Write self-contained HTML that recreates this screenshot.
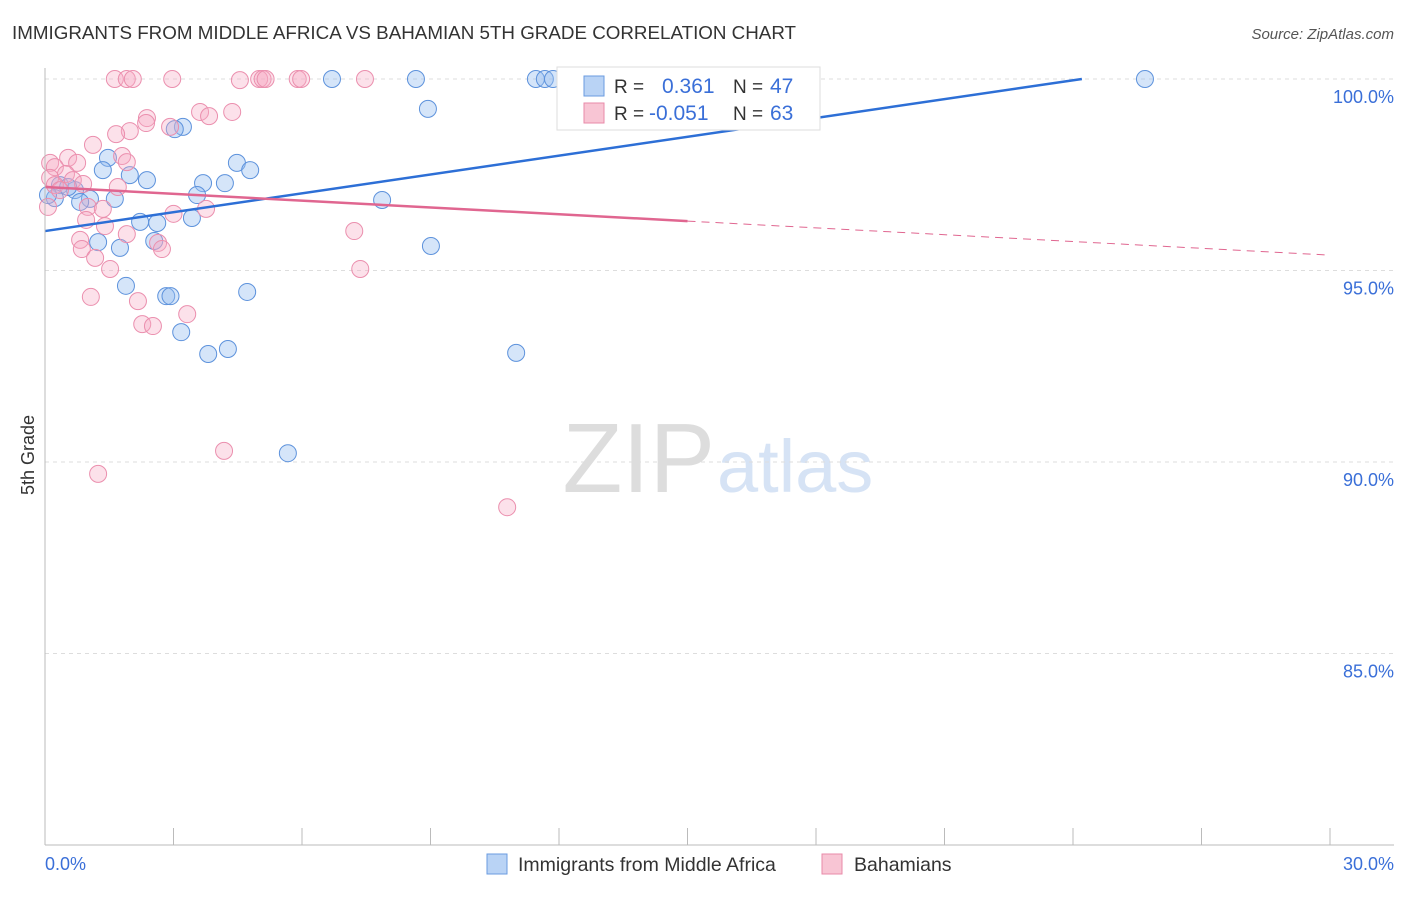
<!DOCTYPE html>
<html><head><meta charset="utf-8"><style>
body{margin:0;background:#fff;font-family:"Liberation Sans",sans-serif}
svg text{font-family:"Liberation Sans",sans-serif}
</style></head><body>
<svg width="1406" height="892">
<text x="12" y="39" font-size="18.8" fill="#333">IMMIGRANTS FROM MIDDLE AFRICA VS BAHAMIAN 5TH GRADE CORRELATION CHART</text>
<text x="1394" y="39" font-size="15" fill="#555" text-anchor="end" font-style="italic">Source: ZipAtlas.com</text>
<text x="715" y="492" font-size="98" fill="#ddd" text-anchor="end" font-family="Liberation Serif">ZIP</text>
<text x="717" y="492" font-size="74" fill="#d6e3f5">atlas</text>
<text x="34" y="455" font-size="18" fill="#333" text-anchor="middle" transform="rotate(-90 34 455)">5th Grade</text>
<g id="grid"></g><g id="pts"></g><g id="lines"></g>
<line x1="45" y1="68" x2="45" y2="845" stroke="#bbb"/>
<line x1="45" y1="845" x2="1394" y2="845" stroke="#bbb"/>
<text x="45" y="870" font-size="18" fill="#3a6fd8">0.0%</text>
<text x="1394" y="870" font-size="18" fill="#3a6fd8" text-anchor="end">30.0%</text>
<g>
<rect x="557" y="67" width="263" height="63" fill="#fff" stroke="#ddd"/>
<rect x="584" y="76" width="20" height="20" fill="#b9d3f5" stroke="#6a9be0"/>
<rect x="584" y="103" width="20" height="20" fill="#f8c5d4" stroke="#e88aa8"/>
<text x="614" y="93" font-size="19" fill="#333">R = </text><text x="662" y="93" font-size="21" fill="#3a6fd8">0.361</text>
<text x="733" y="93" font-size="19" fill="#333">N = </text><text x="770" y="93" font-size="21" fill="#3a6fd8">47</text>
<text x="614" y="120" font-size="19" fill="#333">R = </text><text x="649" y="120" font-size="21" fill="#3a6fd8">-0.051</text>
<text x="733" y="120" font-size="19" fill="#333">N = </text><text x="770" y="120" font-size="21" fill="#3a6fd8">63</text>
</g>
<g>
<rect x="487" y="854" width="20" height="20" fill="#b9d3f5" stroke="#6a9be0"/>
<text x="518" y="871" font-size="19.5" fill="#333">Immigrants from Middle Africa</text>
<rect x="822" y="854" width="20" height="20" fill="#f8c5d4" stroke="#e88aa8"/>
<text x="854" y="871" font-size="19.5" fill="#333">Bahamians</text>
</g>
</svg>
<script>
const yTicks=[100,95,90,85];
const yTickLabels=["100.0%","95.0%","90.0%","85.0%"];
const xTicks=[0,3,6,9,12,15,18,21,24,27,30];
const blueX=[6.70,8.66,11.46,11.67,11.86,25.68,8.94,3.22,3.03,1.47,4.48,4.79,1.35,1.98,2.38,3.69,4.20,0.35,0.70,3.55,1.63,1.05,0.23,0.82,7.87,3.43,2.22,2.62,1.24,1.75,2.55,9.01,1.89,4.72,2.83,2.93,3.18,4.27,3.81,11.00,5.67,0.07,0.54];
const blueY=[100,100,100,100,100,100,99.22,98.75,98.69,97.94,97.81,97.62,97.62,97.49,97.36,97.28,97.28,97.23,97.10,96.97,96.87,96.87,96.89,96.79,96.84,96.37,96.27,96.24,95.74,95.59,95.77,95.64,94.60,94.44,94.33,94.33,93.39,92.95,92.82,92.85,90.23,96.97,97.18];
const pinkX=[1.63,1.91,2.05,2.97,4.55,5.0,5.08,5.15,5.9,5.98,7.47,3.62,3.83,4.37,2.38,2.36,2.92,1.98,1.66,1.12,1.80,0.54,1.91,0.75,0.12,0.23,0.49,0.65,0.89,1.70,0.12,0.23,0.35,0.07,1.00,1.35,3.76,3.0,0.96,1.40,1.91,7.22,0.82,2.64,2.73,0.86,1.17,1.52,7.36,1.07,2.17,3.32,2.27,2.52,4.18,1.24,10.79];
const pinkY=[100,100,100,100,99.97,100,100,100,100,100,100,99.14,99.03,99.14,98.98,98.85,98.75,98.64,98.56,98.28,97.99,97.94,97.83,97.81,97.81,97.70,97.52,97.36,97.26,97.18,97.42,97.23,97.10,96.66,96.66,96.61,96.61,96.48,96.32,96.16,95.95,96.03,95.80,95.72,95.56,95.56,95.33,95.04,95.04,94.31,94.20,93.86,93.60,93.55,90.29,89.69,88.82];
const blueTrend=[96.03,0.164];
const pinkTrend=[97.18,-0.0593];
const X=v=>45+v*(1285/30), Y=v=>79+(100-v)*38.3;
const NS="http://www.w3.org/2000/svg";
function mk(tag,attrs,parent){const e=document.createElementNS(NS,tag);for(const k in attrs)e.setAttribute(k,attrs[k]);document.getElementById(parent).appendChild(e);return e;}
yTicks.forEach((t,i)=>{
 const l=mk('line',{x1:45,x2:1394,y1:Y(t),y2:Y(t),stroke:'#ddd','stroke-dasharray':'4 4'},'grid');
 
 
 const tx=mk('text',{x:1394,y:Y(t)+24,'font-size':18,fill:'#3a6fd8','text-anchor':'end'},'grid');
 tx.textContent=yTickLabels[i];
 
 
});
xTicks.forEach(t=>{
 const l=mk('line',{x1:X(t),x2:X(t),y1:828,y2:845,stroke:'#bbb'},'grid');
 
 
});
blueX.forEach((x,i)=>{
 const c=mk('circle',{cx:X(x),cy:Y(blueY[i]),r:8.5,fill:'rgba(150,190,240,0.4)',stroke:'#5d92dc','stroke-width':1},'pts');
 
 
});
pinkX.forEach((x,i)=>{
 const c=mk('circle',{cx:X(x),cy:Y(pinkY[i]),r:8.5,fill:'rgba(245,170,195,0.35)',stroke:'#eb8fae','stroke-width':1},'pts');
 
 
});
const bxEnd=Math.min(30,(100-blueTrend[0])/blueTrend[1]);
const bl=mk('line',{x1:X(0),y1:Y(blueTrend[0]),x2:X(bxEnd),y2:Y(blueTrend[0]+blueTrend[1]*bxEnd),stroke:'#2d6fd6','stroke-width':2.5},'lines');


const pl=mk('line',{x1:X(0),y1:Y(pinkTrend[0]),x2:X(15),y2:Y(pinkTrend[0]+pinkTrend[1]*15),stroke:'#e06690','stroke-width':2.5},'lines');


const pd=mk('line',{x1:X(15),y1:Y(pinkTrend[0]+pinkTrend[1]*15),x2:X(30),y2:Y(pinkTrend[0]+pinkTrend[1]*30),stroke:'#e06690','stroke-width':1,'stroke-dasharray':'8 6'},'lines');


</script>
</body></html>
